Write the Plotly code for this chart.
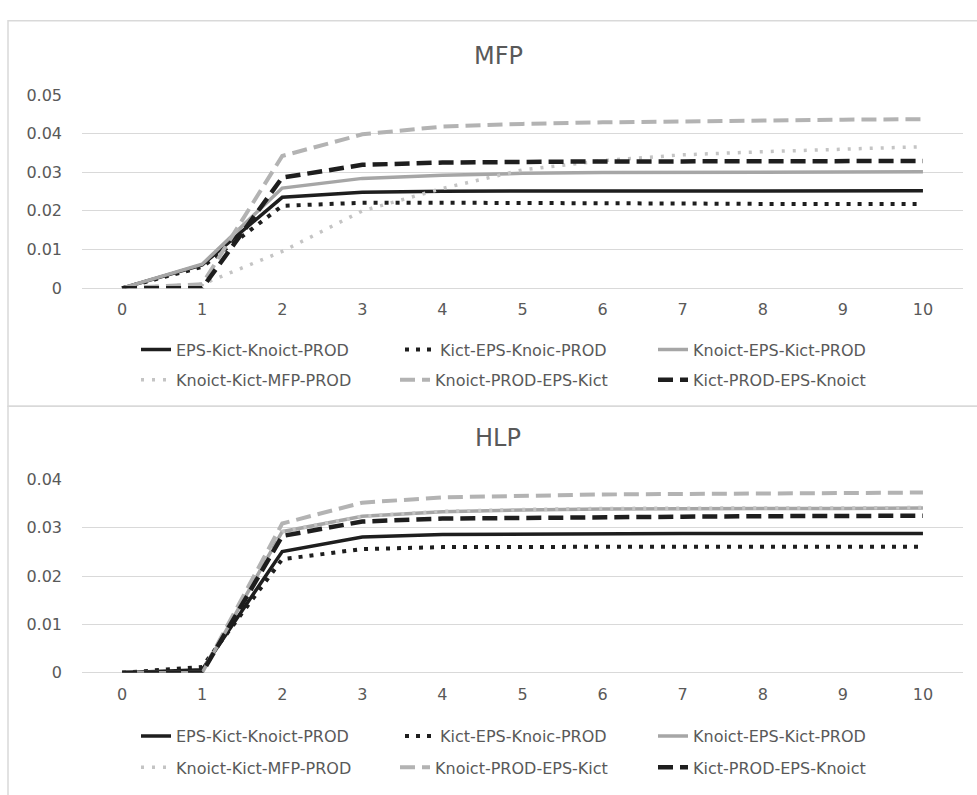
import plotly.graph_objects as go

W, H = 977, 795

steps = [0, 1, 2, 3, 4, 5, 6, 7, 8, 9, 10]
tick_labels_x = ["0", "1", "2", "3", "4", "5", "6", "7", "8", "9", "10"]

series_names = [
    "EPS-Kict-Knoict-PROD",
    "Kict-EPS-Knoic-PROD",
    "Knoict-EPS-Kict-PROD",
    "Knoict-Kict-MFP-PROD",
    "Knoict-PROD-EPS-Kict",
    "Kict-PROD-EPS-Knoict",
]

# MFP panel values
mfp_eps_kict_knoict_prod = [0, 0.0060, 0.0235, 0.0248, 0.0251, 0.0251, 0.0251, 0.0251, 0.0251, 0.0251, 0.0252]
mfp_kict_eps_knoic_prod = [0, 0.0055, 0.0213, 0.0221, 0.0221, 0.0221, 0.0220, 0.0219, 0.0218, 0.0218, 0.0218]
mfp_knoict_eps_kict_prod = [0, 0.0062, 0.0259, 0.0284, 0.0292, 0.0297, 0.0299, 0.0300, 0.0301, 0.0301, 0.0301]
mfp_knoict_kict_mfp_prod = [0, 0.0010, 0.0095, 0.0200, 0.0258, 0.0306, 0.0330, 0.0345, 0.0353, 0.0360, 0.0366]
mfp_knoict_prod_eps_kict = [0, 0.0010, 0.0342, 0.0398, 0.0418, 0.0425, 0.0429, 0.0432, 0.0434, 0.0436, 0.0437]
mfp_kict_prod_eps_knoict = [0, 0.0, 0.0286, 0.0319, 0.0325, 0.0327, 0.0328, 0.0328, 0.0328, 0.0328, 0.0329]

# HLP panel values
hlp_eps_kict_knoict_prod = [0, 0.0006, 0.0251, 0.0281, 0.0286, 0.0287, 0.0288, 0.0288, 0.0288, 0.0288, 0.0288]
hlp_kict_eps_knoic_prod = [0, 0.0012, 0.0235, 0.0256, 0.0260, 0.0261, 0.0261, 0.0261, 0.0261, 0.0261, 0.0261]
hlp_knoict_eps_kict_prod = [0, 0.0, 0.0292, 0.0324, 0.0333, 0.0337, 0.0339, 0.0340, 0.0340, 0.0340, 0.0341]
hlp_knoict_kict_mfp_prod = [0, 0.0, 0.0292, 0.0324, 0.0334, 0.0338, 0.0340, 0.0341, 0.0341, 0.0341, 0.0342]
hlp_knoict_prod_eps_kict = [0, 0.0, 0.0309, 0.0352, 0.0363, 0.0367, 0.0369, 0.0370, 0.0371, 0.0372, 0.0373]
hlp_kict_prod_eps_knoict = [0, 0.0, 0.0283, 0.0313, 0.0319, 0.0321, 0.0322, 0.0323, 0.0324, 0.0325, 0.0325]

mfp_ticks = [0, 0.01, 0.02, 0.03, 0.04, 0.05]
mfp_tick_labels = ["0", "0.01", "0.02", "0.03", "0.04", "0.05"]
hlp_ticks = [0, 0.01, 0.02, 0.03, 0.04]
hlp_tick_labels = ["0", "0.01", "0.02", "0.03", "0.04"]

mfp_values = [mfp_eps_kict_knoict_prod, mfp_kict_eps_knoic_prod, mfp_knoict_eps_kict_prod,
              mfp_knoict_kict_mfp_prod, mfp_knoict_prod_eps_kict, mfp_kict_prod_eps_knoict]
hlp_values = [hlp_eps_kict_knoict_prod, hlp_kict_eps_knoic_prod, hlp_knoict_eps_kict_prod,
              hlp_knoict_kict_mfp_prod, hlp_knoict_prod_eps_kict, hlp_kict_prod_eps_knoict]

styles = [
    dict(color="#1e1e1e", width=3.5, dash="solid"),
    dict(color="#1e1e1e", width=4, dash="4px,7px"),
    dict(color="#a6a6a6", width=3.5, dash="solid"),
    dict(color="#c4c4c4", width=3.5, dash="3px,8px"),
    dict(color="#b3b3b3", width=4, dash="15px,7px"),
    dict(color="#1e1e1e", width=4.5, dash="15px,7px"),
]

FONT = "DejaVu Sans"
TXT = "#595959"
GRID = "#d9d9d9"

fig = go.Figure()

def px_x(p):
    return p / W

def px_y(p):
    return 1 - p / H

# legend text start positions (px) and row y positions
legend_text_x = [178, 442, 695, 178, 437, 695]
legend_rows_top = [349, 349, 349, 380, 380, 380]
legend_rows_bottom = [745, 745, 745, 777, 777, 777]

legend_layouts = {}
for panel, (vals, xa, ya, rows) in enumerate([
        (mfp_values, "x", "y", legend_rows_top),
        (hlp_values, "x2", "y2", legend_rows_bottom)]):
    for i, name in enumerate(series_names):
        idx = panel * 6 + i + 1
        lname = "legend" if idx == 1 else f"legend{idx}"
        fig.add_trace(go.Scatter(
            x=steps, y=vals[i], mode="lines", name=name,
            line=styles[i], xaxis=xa, yaxis=ya,
            legend=lname, showlegend=True, hoverinfo="skip",
        ))
        legend_layouts[lname] = dict(
            x=px_x(legend_text_x[i] - 42), y=px_y(rows[i]),
            xanchor="left", yanchor="middle",
            bgcolor="rgba(0,0,0,0)", borderwidth=0,
            font=dict(family=FONT, size=16, color=TXT),
            orientation="h",
        )

common_x = dict(
    range=[-0.5, 10.5], tickvals=steps, ticktext=tick_labels_x,
    showgrid=False, zeroline=False, showline=False, ticks="",
    tickfont=dict(family=FONT, size=16, color=TXT),
    ticklabelstandoff=10, fixedrange=True,
    domain=[82 / W, 963 / W],
)
common_y = dict(
    showgrid=True, gridcolor=GRID, gridwidth=1.3,
    zeroline=True, zerolinecolor=GRID, zerolinewidth=1.3,
    showline=False, ticks="",
    tickfont=dict(family=FONT, size=16, color=TXT),
    ticklabelstandoff=19, fixedrange=True,
)

fig.update_layout(
    width=W, height=H,
    margin=dict(l=0, r=0, t=0, b=0),
    paper_bgcolor="white", plot_bgcolor="white",
    xaxis=dict(common_x, anchor="y"),
    yaxis=dict(common_y, anchor="x", range=[0, 0.05], tickvals=mfp_ticks, ticktext=mfp_tick_labels,
               domain=[px_y(286), px_y(88)]),
    xaxis2=dict(common_x, anchor="y2"),
    yaxis2=dict(common_y, anchor="x2", range=[0, 0.04], tickvals=hlp_ticks, ticktext=hlp_tick_labels,
                domain=[px_y(680), px_y(482)]),
    annotations=[
        dict(text="MFP", x=px_x(498), y=px_y(48.5), xref="paper", yref="paper",
             showarrow=False, xanchor="center", yanchor="middle",
             font=dict(family=FONT, size=24, color=TXT)),
        dict(text="HLP", x=px_x(498), y=px_y(439), xref="paper", yref="paper",
             showarrow=False, xanchor="center", yanchor="middle",
             font=dict(family=FONT, size=24, color=TXT)),
    ],
    shapes=[
        dict(type="rect", xref="paper", yref="paper", x0=px_x(8), x1=px_x(990),
             y0=px_y(407), y1=px_y(12), line=dict(color=GRID, width=1.5), layer="below"),
        dict(type="rect", xref="paper", yref="paper", x0=px_x(8), x1=px_x(990),
             y0=px_y(840), y1=px_y(407), line=dict(color=GRID, width=1.5), layer="below"),
    ],
    showlegend=True,
    **legend_layouts,
)

fig.write_html("out.html", post_script="document.body.style.margin='0';",
               config={"displayModeBar": False})
